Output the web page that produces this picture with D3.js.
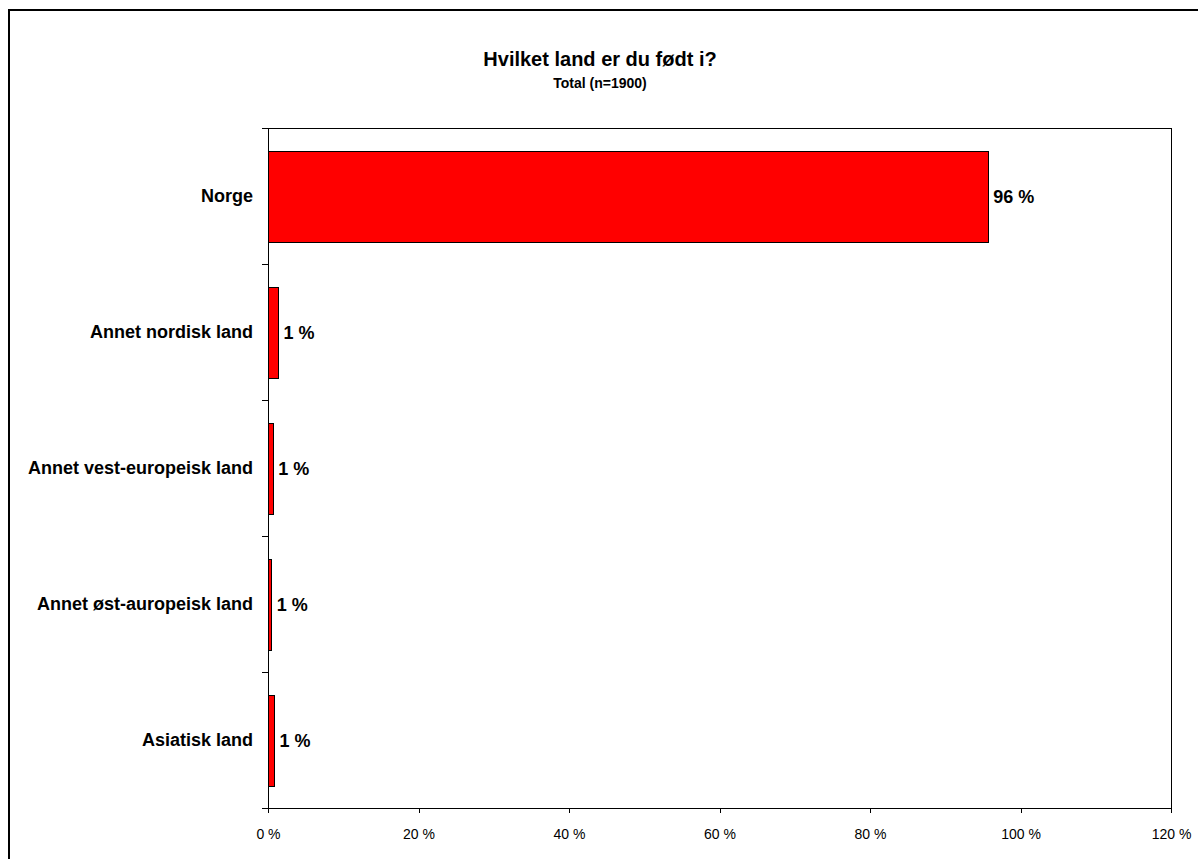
<!DOCTYPE html>
<html><head><meta charset="utf-8">
<script src="https://cdn.jsdelivr.net/npm/d3@7"></script>
<style>body{margin:0;background:#fff}svg{display:block;font-family:"Liberation Sans",Arial,sans-serif}</style>
</head><body><svg id="c" width="1198" height="859"></svg>
<script>
const categories = ["Norge","Annet nordisk land","Annet vest-europeisk land","Annet øst-auropeisk land","Asiatisk land"];
const values = [95.7, 1.4, 0.7, 0.5, 0.85];
const valueLabels = ["96 %","1 %","1 %","1 %","1 %"];
const xTicks = [0,20,40,60,80,100,120];
const title = "Hvilket land er du født i?";
const subtitle = "Total (n=1900)";

const svg = d3.select("#c");
const m = {left:268, right:1171, top:128, bottom:808};

// outer frame
svg.append("rect").attr("x",9).attr("y",10).attr("width",1300).attr("height",1000)
  .attr("fill","none").attr("stroke","#000").attr("stroke-width",2);

const x = d3.scaleLinear().domain([0,120]).range([m.left,m.right]);
const y = d3.scaleBand().domain(categories).range([m.top,m.bottom]).paddingInner(0.33).paddingOuter(0.165);
const yb = d3.scaleBand().domain(categories).range([m.top,m.bottom]);

// plot frame
svg.append("rect").attr("x",m.left).attr("y",m.top).attr("width",m.right-m.left).attr("height",m.bottom-m.top)
  .attr("fill","none").attr("stroke","#000").attr("stroke-width",1).attr("shape-rendering","crispEdges");

// bars
svg.selectAll("rect.bar").data(categories).enter().append("rect").attr("class","bar")
  .attr("x",x(0)).attr("y",d=>y(d)+1)
  .attr("width",(d,i)=>x(values[i])-x(0)).attr("height",y.bandwidth())
  .attr("fill","#ff0000").attr("stroke","#000").attr("stroke-width",1).attr("shape-rendering","crispEdges");

// value labels
svg.selectAll("text.val").data(categories).enter().append("text").attr("class","val")
  .attr("x",(d,i)=>x(values[i])+5).attr("y",d=>y(d)+1+y.bandwidth()/2).attr("dy","0.35em")
  .attr("font-size",18).attr("font-weight","bold").text((d,i)=>valueLabels[i]);

// x axis
const xAxis = d3.axisBottom(x).tickValues(xTicks).tickFormat(d=>d+" %").tickSize(5).tickPadding(16);
const gx = svg.append("g").attr("transform",`translate(0,${m.bottom})`).call(xAxis);
gx.select(".domain").remove();
gx.selectAll("line").attr("stroke","#000").attr("shape-rendering","crispEdges");
gx.selectAll("text").attr("font-size",14).attr("fill","#000").attr("font-family","'Liberation Sans',Arial,sans-serif");

// y axis ticks at band boundaries
const bounds = categories.map(c=>yb(c)).concat([m.bottom]);
svg.selectAll("line.yt").data(bounds).enter().append("line").attr("class","yt")
  .attr("x1",m.left-6).attr("x2",m.left).attr("y1",d=>d).attr("y2",d=>d)
  .attr("stroke","#000").attr("shape-rendering","crispEdges");

// category labels
svg.selectAll("text.cat").data(categories).enter().append("text").attr("class","cat")
  .attr("x",m.left-15).attr("y",d=>yb(d)+yb.bandwidth()/2).attr("dy","0.35em")
  .attr("text-anchor","end").attr("font-size",18).attr("font-weight","bold").text(d=>d);

// titles
svg.append("text").attr("x",600).attr("y",66).attr("text-anchor","middle")
  .attr("font-size",20).attr("font-weight","bold").text(title);
svg.append("text").attr("x",600).attr("y",88).attr("text-anchor","middle")
  .attr("font-size",14).attr("font-weight","bold").text(subtitle);
</script></body></html>
